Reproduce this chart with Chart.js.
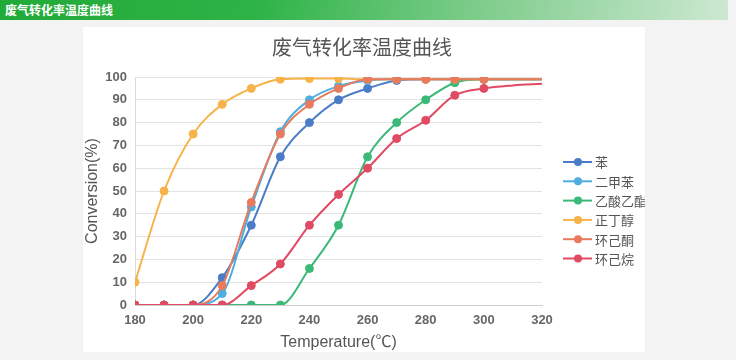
<!DOCTYPE html>
<html lang="zh">
<head>
  <meta charset="UTF-8" />
  <title>废气转化率温度曲线</title>
  <script src="https://cdn.jsdelivr.net/npm/chart.js"></script>
  <style>
    html, body { margin: 0; padding: 0; }
    body { width: 736px; height: 360px; background: #f3f3f3; position: relative; overflow: hidden; }
    .header {
      position: absolute; left: 0; top: 0; width: 728px; height: 20px;
      background: linear-gradient(100deg, #22aa38 0%, #2db346 35%, #7ccc8a 65%, #cde8d1 100%);
      color: #fff; font: bold 12px "Noto Sans CJK SC", sans-serif; line-height: 20px;
      padding-left: 5px; box-sizing: border-box;
    }
    .panel { position: absolute; left: 83px; top: 27px; width: 562px; height: 325px; background: #fff; }
  </style>
</head>
<body>
<div class="header">废气转化率温度曲线</div>
<div class="panel"><canvas id="chart" width="562" height="325"></canvas></div>

<script>
  // temperatures (°C) and conversion (%)
  const temps = [180, 190, 200, 210, 220, 230, 240, 250, 260, 270, 280, 290, 300, 310, 320];
  const benzene = [0, 0, 0, 12, 35, 65, 80, 90, 95, 98.5, 99, 99, 99, 99, 99];
  const xylene = [0, 0, 0, 5, 43, 76, 90, 96, 98.5, 99, 99, 99, 99, 99, 99];
  const ethylAcetate = [0, 0, 0, 0, 0, 0, 16, 35, 65, 80, 90, 97.5, 99, 99, 99];
  const butanol = [10, 50, 75, 88, 95, 99, 99.3, 99.3, 99, 99, 99, 99, 99, 99, 99];
  const cyclohexanone = [0, 0, 0, 8.5, 45, 75, 88, 95, 99, 99, 99, 99, 99, 99, 99];
  const cyclohexane = [0, 0, 0, 0, 8.5, 18, 35, 48.5, 60, 73, 81, 92, 95, 96.3, 97];

  const names = ["苯", "二甲苯", "乙酸乙酯", "正丁醇", "环己酮", "环己烷"];
  const colors = ["#4a7cc8", "#4eaee0", "#3cb878", "#f7b34a", "#e87a5d", "#e04a62"];
  const series = [benzene, xylene, ethylAcetate, butanol, cyclohexanone, cyclohexane];
  const chartTitle = "废气转化率温度曲线";

  const latin = "'Liberation Sans', 'Noto Sans CJK SC', sans-serif";
  const cjk = "'Noto Sans CJK SC', sans-serif";

  const datasets = series.map((vals, i) => ({
    label: names[i],
    data: vals.map((v, j) => ({ x: temps[j], y: v })),
    borderColor: colors[i],
    backgroundColor: colors[i],
    pointBackgroundColor: colors[i],
    pointBorderColor: colors[i],
    borderWidth: 2,
    pointRadius: (ctx) => (temps[ctx.dataIndex] > 300 ? 0 : 4),
    pointBorderWidth: 1,
    cubicInterpolationMode: "monotone",
    order: series.length - 1 - i,
  }));

  // title centred on the whole panel, legend on the right (line + dot + name)
  const decor = {
    id: "decor",
    afterDraw(chart) {
      const ctx = chart.ctx;
      ctx.save();
      ctx.font = "20px " + cjk;
      ctx.fillStyle = "#555";
      ctx.textAlign = "center";
      ctx.textBaseline = "middle";
      ctx.fillText(chartTitle, chart.width / 2 - 2, 20);

      const x0 = chart.chartArea.right + 21;
      const y0 = 135;
      ctx.font = "13px " + cjk;
      ctx.textAlign = "left";
      names.forEach((name, i) => {
        const y = y0 + i * 19.3;
        ctx.strokeStyle = colors[i];
        ctx.lineWidth = 2;
        ctx.beginPath();
        ctx.moveTo(x0, y);
        ctx.lineTo(x0 + 29, y);
        ctx.stroke();
        ctx.fillStyle = colors[i];
        ctx.beginPath();
        ctx.arc(x0 + 15, y, 4, 0, Math.PI * 2);
        ctx.fill();
        ctx.fillStyle = "#555";
        ctx.fillText(name, x0 + 32, y + 0.5);
      });
      ctx.restore();
    },
  };

  new Chart(document.getElementById("chart"), {
    type: "line",
    data: { datasets: datasets },
    plugins: [decor],
    options: {
      responsive: false,
      animation: false,
      devicePixelRatio: 1,
      layout: { padding: { left: 0, right: 103, top: 50, bottom: 0 } },
      plugins: {
        legend: { display: false },
        tooltip: { enabled: false },
        title: { display: false },
      },
      scales: {
        x: {
          type: "linear",
          min: 180,
          max: 320,
          afterFit: (s) => { s.height = 47; },
          ticks: { stepSize: 20, color: "#666", font: { family: latin, size: 13, weight: "bold" }, padding: 8 },
          grid: { display: false, drawTicks: false },
          border: { display: true, color: "#cfcfcf" },
          title: {
            display: true,
            text: "Temperature(℃)",
            color: "#555",
            font: { family: latin, size: 16 },
            padding: { top: 0, bottom: 0 },
          },
        },
        y: {
          min: 0,
          max: 100,
          afterFit: (s) => { s.width = 52; },
          ticks: { stepSize: 10, color: "#666", font: { family: latin, size: 13, weight: "bold" }, padding: 8 },
          grid: { color: "#e3e3e3", drawTicks: false },
          border: { display: true, color: "#dadada" },
          title: {
            display: true,
            text: "Conversion(%)",
            color: "#555",
            font: { family: latin, size: 16 },
            padding: { top: 0, bottom: 0 },
          },
        },
      },
    },
  });
</script>
</body>
</html>
